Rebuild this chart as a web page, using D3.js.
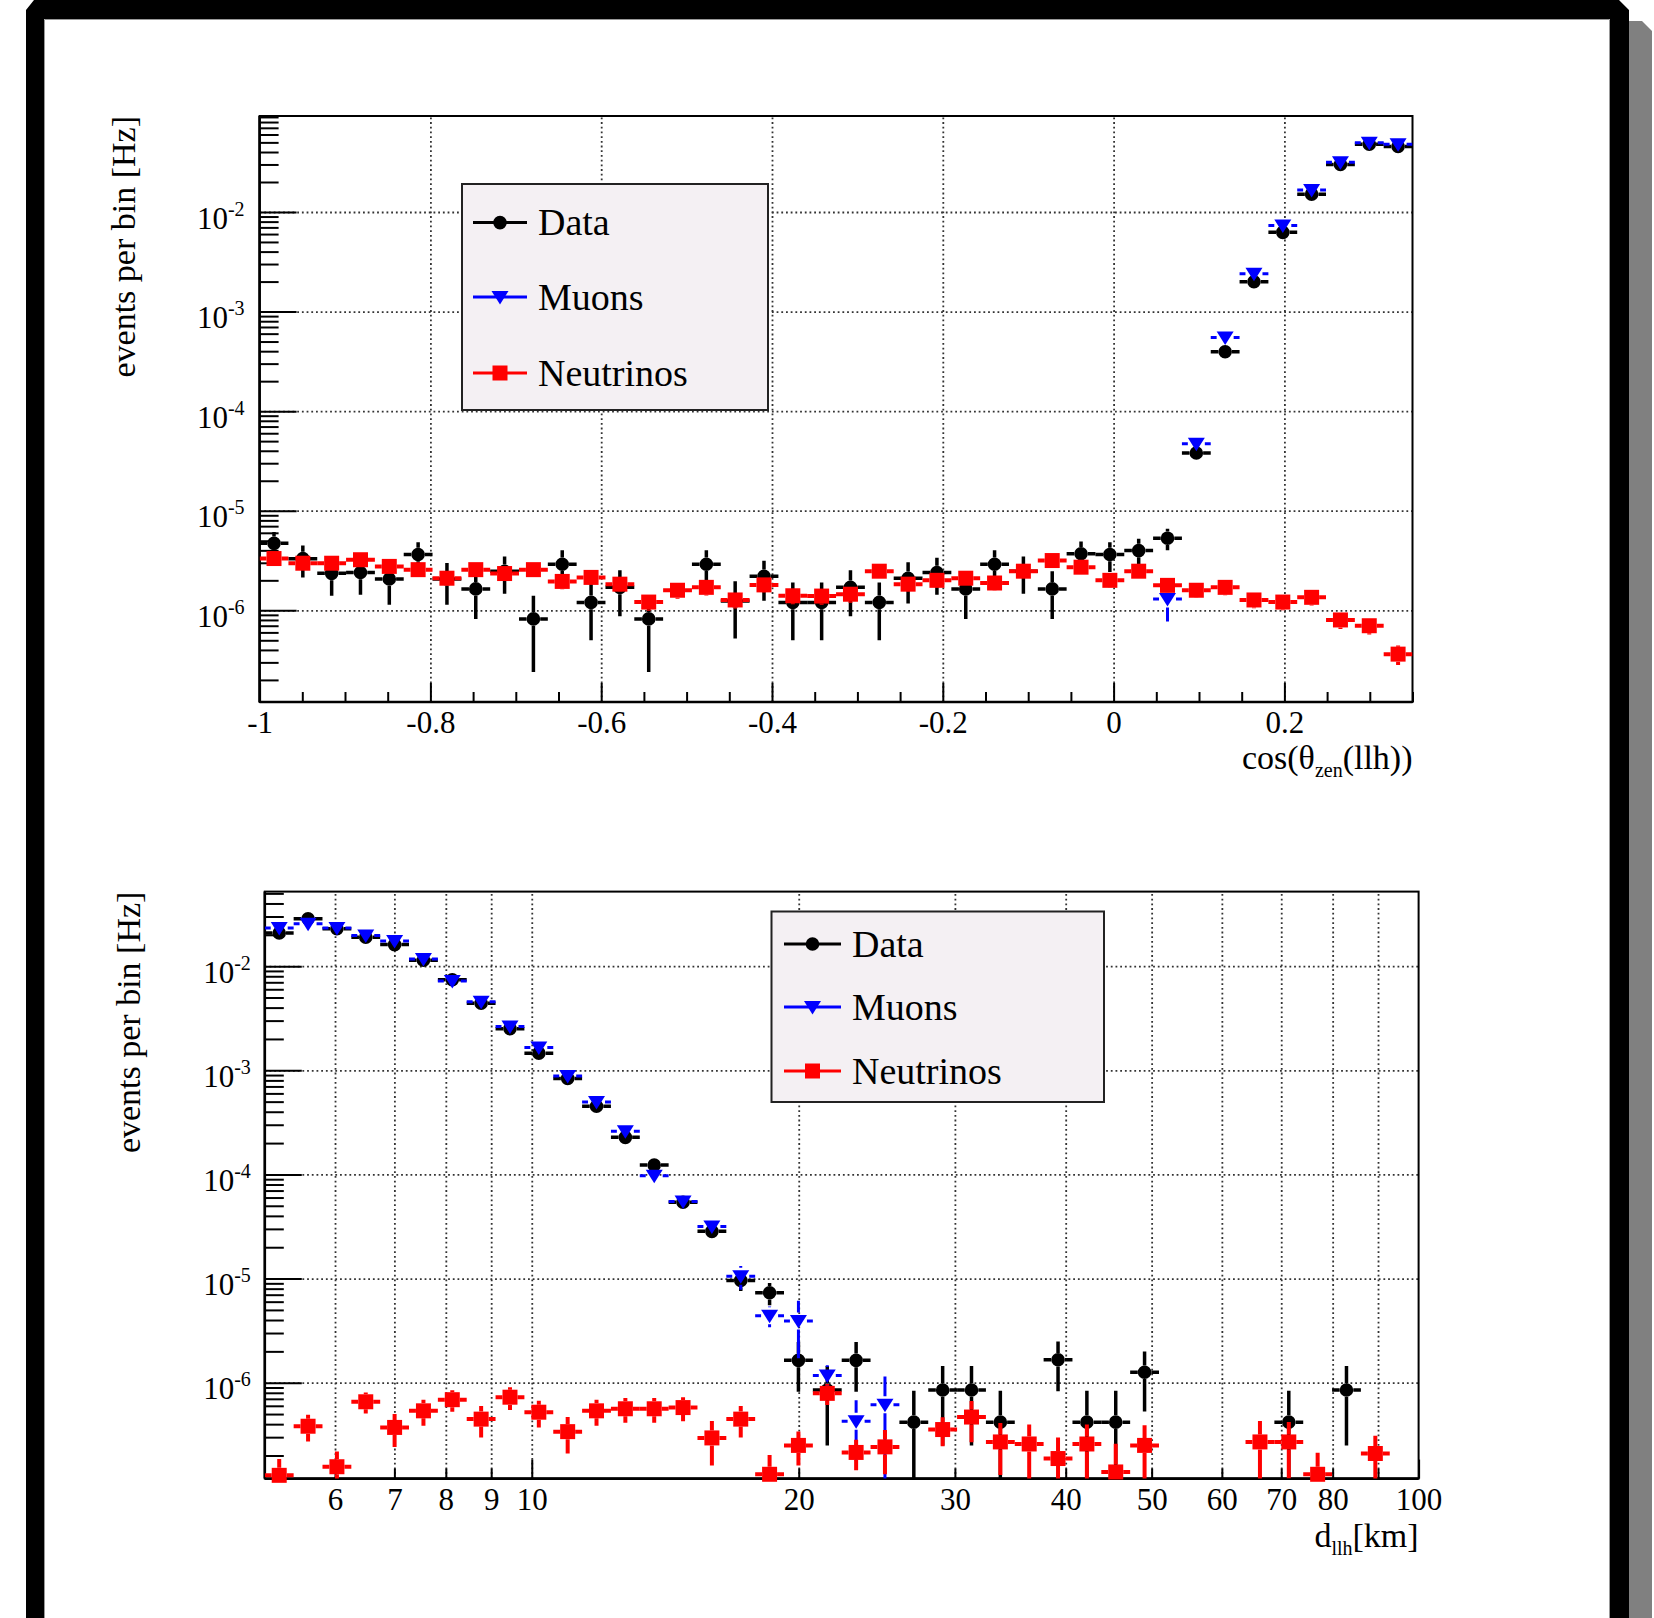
<!DOCTYPE html>
<html>
<head>
<meta charset="utf-8">
<script src="https://cdn.jsdelivr.net/npm/d3@7"></script>
<style>
  body { margin: 0; background: #fff; }
  svg { display: block; }
  text { font-family: "Liberation Serif", "Times New Roman", serif; fill: #000; }
</style>
</head>
<body>
<svg id="canvas" width="1654" height="1618"></svg>
<script>
// ---------- top panel : cos(theta_zen(llh)), 40 bins in [-1, 0.35]
var zenRange = [-1, 0.35];
var zenBins = 40;
var zenData = [4.7e-6, 3.3e-6, 2.35e-6, 2.4e-6, 2.06e-6, 3.63e-6, 2.06e-6, 1.64e-6, 2.47e-6, 8.2e-7,
               2.9e-6, 1.2e-6, 1.7e-6, 8.2e-7, 0, 2.9e-6, 1.24e-6, 2.2e-6, 1.2e-6, 1.2e-6,
               1.7e-6, 1.2e-6, 2.1e-6, 2.4e-6, 1.64e-6, 2.9e-6, 2.47e-6, 1.64e-6, 3.7e-6, 3.63e-6,
               3.98e-6, 5.3e-6, 3.8e-5, 3.95e-4, 1.99e-3, 6.24e-3, 1.51e-2, 3.0e-2, 4.79e-2, 4.54e-2];
var zenDataErr = [1.4e-6, 1.17e-6, 0.95e-6, 0.97e-6, 0.92e-6, 1.2e-6, 0.92e-6, 0.82e-6, 1.0e-6, 5.8e-7,
                  1.1e-6, 0.7e-6, 0.83e-6, 5.8e-7, 0, 1.1e-6, 0.72e-6, 0.95e-6, 0.7e-6, 0.7e-6,
                  0.83e-6, 0.7e-6, 0.93e-6, 0.97e-6, 0.82e-6, 1.1e-6, 1.0e-6, 0.82e-6, 1.2e-6, 1.2e-6,
                  1.26e-6, 1.3e-6, 4e-6, 1.3e-5, 3e-5, 5e-5, 8e-5, 1.1e-4, 1.4e-4, 1.4e-4];
var zenMuons = [0, 0, 0, 0, 0, 0, 0, 0, 0, 0,
                0, 0, 0, 0, 0, 0, 0, 0, 0, 0,
                0, 0, 0, 0, 0, 0, 0, 0, 0, 0,
                0, 1.3e-6, 4.7e-5, 5.5e-4, 2.4e-3, 7.3e-3, 1.66e-2, 3.15e-2, 4.97e-2, 4.79e-2];
var zenMuonsErr = [0, 0, 0, 0, 0, 0, 0, 0, 0, 0,
                   0, 0, 0, 0, 0, 0, 0, 0, 0, 0,
                   0, 0, 0, 0, 0, 0, 0, 0, 0, 0,
                   0, 0.53e-6, 3e-6, 2e-5, 5e-5, 1e-4, 2e-4, 3e-4, 4e-4, 4e-4];
var zenNu = [3.31e-6, 2.97e-6, 2.97e-6, 3.22e-6, 2.76e-6, 2.56e-6, 2.1e-6, 2.56e-6, 2.34e-6, 2.56e-6,
             1.95e-6, 2.14e-6, 1.83e-6, 1.21e-6, 1.59e-6, 1.7e-6, 1.27e-6, 1.8e-6, 1.4e-6, 1.39e-6,
             1.45e-6, 2.47e-6, 1.83e-6, 2.0e-6, 2.1e-6, 1.88e-6, 2.47e-6, 3.16e-6, 2.71e-6, 2.0e-6,
             2.47e-6, 1.78e-6, 1.59e-6, 1.7e-6, 1.27e-6, 1.21e-6, 1.35e-6, 8.0e-7, 7.0e-7, 3.63e-7];
var zenNuErr = [0.5e-6, 0.45e-6, 0.45e-6, 0.48e-6, 0.42e-6, 0.4e-6, 0.35e-6, 0.4e-6, 0.37e-6, 0.4e-6,
                0.32e-6, 0.35e-6, 0.3e-6, 0.22e-6, 0.28e-6, 0.29e-6, 0.23e-6, 0.3e-6, 0.25e-6, 0.25e-6,
                0.26e-6, 0.4e-6, 0.3e-6, 0.33e-6, 0.34e-6, 0.31e-6, 0.4e-6, 0.5e-6, 0.43e-6, 0.33e-6,
                0.4e-6, 0.29e-6, 0.26e-6, 0.28e-6, 0.22e-6, 0.21e-6, 0.23e-6, 0.15e-6, 0.13e-6, 0.08e-6];
var zenYRange = [1.2e-7, 0.092];
var zenTicks = [-1, -0.8, -0.6, -0.4, -0.2, 0, 0.2];
var zenTickLabels = ["-1", "-0.8", "-0.6", "-0.4", "-0.2", "0", "0.2"];

// ---------- bottom panel : d_llh [km], 40 log bins in [5, 100]
var distRange = [5, 100];
var distBins = 40;
var distData = [2.08e-2, 2.85e-2, 2.29e-2, 1.9e-2, 1.61e-2, 1.14e-2, 7.4e-3, 4.4e-3, 2.51e-3, 1.46e-3,
                8.36e-4, 4.52e-4, 2.27e-4, 1.23e-4, 5.4e-5, 2.84e-5, 9.6e-6, 7.3e-6, 1.64e-6, 8.5e-7,
                1.64e-6, 0, 4.18e-7, 8.5e-7, 8.5e-7, 4.18e-7, 0, 1.66e-6, 4.18e-7, 4.18e-7,
                1.26e-6, 0, 0, 0, 0, 4.18e-7, 0, 8.5e-7, 0, 0];
var distDataErr = [2e-4, 3e-4, 2e-4, 2e-4, 2e-4, 1.5e-4, 1e-4, 8e-5, 6e-5, 4e-5,
                   3e-5, 2e-5, 1e-5, 7e-6, 4.8e-6, 3.4e-6, 2e-6, 1.75e-6, 8.2e-7, 6e-7,
                   8.2e-7, 0, 4.18e-7, 6e-7, 6e-7, 4.18e-7, 0, 8.3e-7, 4.18e-7, 4.18e-7,
                   7.3e-7, 0, 0, 0, 0, 4.18e-7, 0, 6e-7, 0, 0];
var distMuons = [2.33e-2, 2.55e-2, 2.33e-2, 1.97e-2, 1.74e-2, 1.17e-2, 7.2e-3, 4.55e-3, 2.63e-3, 1.66e-3,
                 8.8e-4, 4.95e-4, 2.6e-4, 9.7e-5, 5.5e-5, 3.16e-5, 1.05e-5, 4.4e-6, 3.92e-6, 1.17e-6,
                 4.27e-7, 6.15e-7, 0, 0, 0, 0, 0, 0, 0, 0,
                 0, 0, 0, 0, 0, 0, 0, 0, 0, 0];
var distMuonsErr = [3e-4, 3e-4, 3e-4, 2.5e-4, 2e-4, 1.5e-4, 1e-4, 7e-5, 5e-5, 3e-5,
                    2e-5, 1.2e-5, 7e-6, 4e-6, 3e-6, 2e-6, 2.7e-6, 1e-6, 2.2e-6, 3e-7,
                    2.5e-7, 5.3e-7, 0, 0, 0, 0, 0, 0, 0, 0,
                    0, 0, 0, 0, 0, 0, 0, 0, 0, 0];
var distNu = [1.29e-7, 3.82e-7, 1.56e-7, 6.56e-7, 3.72e-7, 5.37e-7, 6.87e-7, 4.47e-7, 7.26e-7, 5.21e-7,
              3.39e-7, 5.37e-7, 5.62e-7, 5.62e-7, 5.77e-7, 2.95e-7, 4.47e-7, 1.32e-7, 2.5e-7, 7.9e-7,
              2.14e-7, 2.42e-7, 0, 3.55e-7, 4.68e-7, 2.7e-7, 2.58e-7, 1.87e-7, 2.58e-7, 1.39e-7,
              2.5e-7, 0, 0, 0, 2.7e-7, 2.7e-7, 1.32e-7, 0, 2.09e-7, 0];
var distNuErr = [0.56e-7, 1.1e-7, 0.63e-7, 1.5e-7, 1.3e-7, 1.5e-7, 1.6e-7, 1.5e-7, 1.8e-7, 1.5e-7,
                 1.3e-7, 1.5e-7, 1.5e-7, 1.5e-7, 1.5e-7, 1.35e-7, 1.5e-7, 0.7e-7, 0.9e-7, 1.8e-7,
                 0.7e-7, 1.1e-7, 0, 1.1e-7, 2.0e-7, 1.4e-7, 1.4e-7, 1.1e-7, 1.4e-7, 1.2e-7,
                 1.4e-7, 0, 0, 0, 1.6e-7, 1.5e-7, 0.8e-7, 0, 1.0e-7, 0];
var distYRange = [1.2e-7, 0.052];
var distMajor = [10, 100];
var distMinor = [6, 7, 8, 9, 20, 30, 40, 50, 60, 70, 80, 90];
var distTickLabels = [6, 7, 8, 9, 10, 20, 30, 40, 50, 60, 70, 80, 100];

var legendNames = ["Data", "Muons", "Neutrinos"];
var decades = [-1, -2, -3, -4, -5, -6, -7];

var svg = d3.select("#canvas");
var FONT = '"Liberation Serif", "Times New Roman", serif';

/* canvas border (black bevel + grey shadow) */
svg.append("polygon")
  .attr("points", "1629,21 1642,21 1652,31 1652,1618 1629,1618")
  .attr("fill", "#808080");
svg.append("polygon")
  .attr("points", "34,0 1619,0 1629,10 1629,1618 1610,1618 1610,19 44,19 44,1618 26,1618 26,10")
  .attr("fill", "#000");
svg.append("path")
  .attr("d", "M44.5,1618 V19.5 H1609.5 V1618")
  .attr("fill", "none").attr("stroke", "#999").attr("stroke-width", 1);

var styles = {
  data:  {color: "#000", marker: "circle", lw: 3.5},
  muons: {color: "#0000ff", marker: "tri", lw: 3},
  nu:    {color: "#ff0000", marker: "square", lw: 4}
};

function markerPath(kind) {
  if (kind === "circle") return d3.symbol().type(d3.symbolCircle).size(Math.PI * 6.8 * 6.8)();
  if (kind === "square") return "M-7.5,-7.5H7.5V7.5H-7.5Z";
  return "M-8.5,-6L8.5,-6L0,7.5Z";
}
var markerHalf = {circle: 6.8, square: 7.5, tri: 8.5};

function drawPanel(p) {
  var g = svg.append("g");
  var w = p.right - p.left, h = p.bottom - p.top;
  var x = p.x, y = p.y;

  var clipId = "clip" + p.id;
  svg.append("clipPath").attr("id", clipId)
    .append("rect").attr("x", p.left).attr("y", p.top).attr("width", w).attr("height", h);

  // dotted grid
  var decVals = decades.map(function(d) { return Math.pow(10, d); })
    .filter(function(v) { return v > p.yRange[0] && v < p.yRange[1]; });
  g.append("g").attr("transform", "translate(" + p.left + ",0)")
    .call(d3.axisLeft(y).tickValues(decVals).tickSize(-w).tickFormat(""))
    .call(function(s) { s.select(".domain").remove(); })
    .selectAll("line")
    .attr("stroke", "#333").attr("stroke-width", 1.8).attr("stroke-dasharray", "1.8,2.9");
  g.append("g").attr("transform", "translate(0," + p.bottom + ")")
    .call(d3.axisBottom(x).tickValues(p.gridX).tickSize(-h).tickFormat(""))
    .call(function(s) { s.select(".domain").remove(); })
    .selectAll("line")
    .attr("stroke", "#333").attr("stroke-width", 1.8).attr("stroke-dasharray", "1.8,2.9");

  // y axis: minor ticks then major ticks with 10^n labels
  var minor = [];
  decades.concat([-8]).forEach(function(d) {
    for (var k = 2; k <= 9; k++) {
      var v = k * Math.pow(10, d);
      if (v > p.yRange[0] && v < p.yRange[1]) minor.push(v);
    }
  });
  g.append("g").attr("transform", "translate(" + p.left + ",0)")
    .call(d3.axisLeft(y).tickValues(minor).tickSize(-19).tickSizeOuter(0).tickFormat(""))
    .call(function(s) { s.select(".domain").remove(); })
    .selectAll("line").attr("stroke", "#000").attr("stroke-width", 2);

  var yAx = g.append("g").attr("transform", "translate(" + p.left + ",0)")
    .call(d3.axisLeft(y).tickValues(decVals).tickSize(-37).tickSizeOuter(0).tickPadding(p.yPad).tickFormat(""));
  yAx.select(".domain").remove();
  yAx.selectAll("line").attr("stroke", "#000").attr("stroke-width", 2);
  yAx.selectAll(".tick text")
    .attr("font-family", FONT).attr("font-size", 31).attr("dy", "0.52em")
    .each(function(d) {
      var t = d3.select(this);
      t.append("tspan").text("10");
      t.append("tspan").attr("dy", -13).attr("font-size", 20).text(String(Math.round(Math.log10(d))));
    });

  // x axis
  var xMin = g.append("g").attr("transform", "translate(0," + p.bottom + ")")
    .call(d3.axisBottom(x).tickValues(p.xMinor).tickSize(-10).tickSizeOuter(0).tickFormat(""));
  xMin.select(".domain").remove();
  xMin.selectAll("line").attr("stroke", "#000").attr("stroke-width", 2);
  var xMaj = g.append("g").attr("transform", "translate(0," + p.bottom + ")")
    .call(d3.axisBottom(x).tickValues(p.xMajor).tickSize(-19).tickSizeOuter(0).tickFormat(""));
  xMaj.select(".domain").remove();
  xMaj.selectAll("line").attr("stroke", "#000").attr("stroke-width", 2);
  var xLab = g.append("g").attr("transform", "translate(0," + p.bottom + ")")
    .call(d3.axisBottom(x).tickValues(p.xLabelVals).tickSize(0).tickPadding(9)
      .tickFormat(function(d, i) { return p.xLabels[i]; }));
  xLab.select(".domain").remove();
  xLab.selectAll("text").attr("font-family", FONT).attr("font-size", 31);

  // frame
  g.append("rect").attr("x", p.left).attr("y", p.top).attr("width", w).attr("height", h)
    .attr("fill", "none").attr("stroke", "#000").attr("stroke-width", 2);
  g.append("line").attr("x1", p.left).attr("x2", p.right).attr("y1", p.bottom).attr("y2", p.bottom)
    .attr("stroke", "#000").attr("stroke-width", 2.6);
  g.append("line").attr("x1", p.left).attr("x2", p.left).attr("y1", p.top).attr("y2", p.bottom)
    .attr("stroke", "#000").attr("stroke-width", 2.6);

  // series: data, muons, neutrinos
  p.series.forEach(function(s) {
    var st = styles[s.key];
    var hm = markerHalf[st.marker];
    var pts = s.values.map(function(v, i) {
      return {v: v, e: s.errors[i], x0: p.edges[i], x1: p.edges[i + 1], xc: p.centers[i]};
    }).filter(function(d) { return d.v > 0; });

    var eg = g.append("g").attr("clip-path", "url(#" + clipId + ")")
      .attr("stroke", st.color).attr("stroke-width", st.lw).attr("fill", "none");
    pts.forEach(function(d) {
      var cx = x(d.xc), cy = y(d.v);
      var lx = x(d.x0), rx = x(d.x1);
      var lo = d.v - d.e > p.yRange[0] ? y(d.v - d.e) : p.bottom + 5;
      var hi = y(d.v + d.e);
      eg.append("path").attr("d",
        "M" + lx + "," + cy + "H" + (cx - hm) +
        "M" + (cx + hm) + "," + cy + "H" + rx +
        (hi < cy - hm ? "M" + cx + "," + (cy - hm) + "V" + hi : "") +
        (lo > cy + hm ? "M" + cx + "," + (cy + hm) + "V" + lo : ""));
    });
    g.append("g").selectAll("path").data(pts).enter()
      .append("path")
      .attr("d", markerPath(st.marker))
      .attr("transform", function(d) { return "translate(" + x(d.xc) + "," + y(d.v) + ")"; })
      .attr("fill", st.color);
  });

  // titles
  var xt = g.append("text").attr("x", p.right).attr("y", p.xTitleY)
    .attr("text-anchor", "end").attr("font-size", 34);
  xt.append("tspan").text(p.xTitle[0]);
  xt.append("tspan").attr("font-size", 20).attr("dy", 8).text(p.xTitle[1]);
  xt.append("tspan").attr("dy", -8).text(p.xTitle[2]);

  g.append("text")
    .attr("transform", "translate(" + (p.left - 125) + "," + p.top + ") rotate(-90)")
    .attr("text-anchor", "end").attr("font-size", 34)
    .text("events per bin [Hz]");

  // legend
  var L = p.legend;
  var lg = g.append("g");
  lg.append("rect").attr("x", L.x).attr("y", L.y).attr("width", L.w).attr("height", L.h)
    .attr("fill", "#f4f0f3").attr("stroke", "#222").attr("stroke-width", 2);
  ["data", "muons", "nu"].forEach(function(k, i) {
    var st = styles[k];
    var ly = L.rows[i];
    lg.append("line").attr("x1", L.lineX[0]).attr("x2", L.lineX[1]).attr("y1", ly).attr("y2", ly)
      .attr("stroke", st.color).attr("stroke-width", 3);
    lg.append("path").attr("d", markerPath(st.marker))
      .attr("transform", "translate(" + ((L.lineX[0] + L.lineX[1]) / 2) + "," + ly + ")")
      .attr("fill", st.color);
    lg.append("text").attr("x", L.textX).attr("y", ly + 12.5).attr("font-size", 38)
      .text(legendNames[i]);
  });
}

/* top panel */
var zTop = {left: 259.6, right: 1412.5, top: 116, bottom: 702};
var zEdges = d3.range(zenBins + 1).map(function(i) { return zenRange[0] + i * (zenRange[1] - zenRange[0]) / zenBins; });
var zCenters = d3.range(zenBins).map(function(i) { return (zEdges[i] + zEdges[i + 1]) / 2; });
var zMinor = d3.range(-0.95, 0.36, 0.05).filter(function(v) {
  return zenTicks.every(function(t) { return Math.abs(t - v) > 1e-6; });
});

drawPanel({
  id: 1, left: zTop.left, right: zTop.right, top: zTop.top, bottom: zTop.bottom,
  x: d3.scaleLinear().domain(zenRange).range([zTop.left, zTop.right]),
  y: d3.scaleLog().domain(zenYRange).range([zTop.bottom, zTop.top]),
  yRange: zenYRange, yPad: 15,
  gridX: zenTicks.slice(1), xMajor: zenTicks, xMinor: zMinor,
  xLabelVals: zenTicks, xLabels: zenTickLabels,
  edges: zEdges, centers: zCenters,
  series: [
    {key: "data", values: zenData, errors: zenDataErr},
    {key: "muons", values: zenMuons, errors: zenMuonsErr},
    {key: "nu", values: zenNu, errors: zenNuErr}
  ],
  xTitle: ["cos(\u03b8", "zen", "(llh))"], xTitleY: 769,
  legend: {x: 462, y: 184, w: 306, h: 226, rows: [222.6, 297, 373], lineX: [473, 527], textX: 538}
});

/* bottom panel */
var dBox = {left: 264.8, right: 1418.6, top: 891.6, bottom: 1478.6};
var dEdges = d3.range(distBins + 1).map(function(i) { return distRange[0] * Math.pow(distRange[1] / distRange[0], i / distBins); });
var dCenters = d3.range(distBins).map(function(i) { return Math.sqrt(dEdges[i] * dEdges[i + 1]); });

drawPanel({
  id: 2, left: dBox.left, right: dBox.right, top: dBox.top, bottom: dBox.bottom,
  x: d3.scaleLog().domain(distRange).range([dBox.left, dBox.right]),
  y: d3.scaleLog().domain(distYRange).range([dBox.bottom, dBox.top]),
  yRange: distYRange, yPad: 14,
  gridX: [6, 7, 8, 9, 10, 20, 30, 40, 50, 60, 70, 80, 90], xMajor: distMajor, xMinor: distMinor,
  xLabelVals: distTickLabels, xLabels: distTickLabels.map(String),
  edges: dEdges, centers: dCenters,
  series: [
    {key: "data", values: distData, errors: distDataErr},
    {key: "muons", values: distMuons, errors: distMuonsErr},
    {key: "nu", values: distNu, errors: distNuErr}
  ],
  xTitle: ["d", "llh", "[km]"], xTitleY: 1547,
  legend: {x: 771.5, y: 911.5, w: 332.5, h: 190.5, rows: [944, 1007, 1071], lineX: [784, 841], textX: 852}
});
</script>
</body>
</html>
